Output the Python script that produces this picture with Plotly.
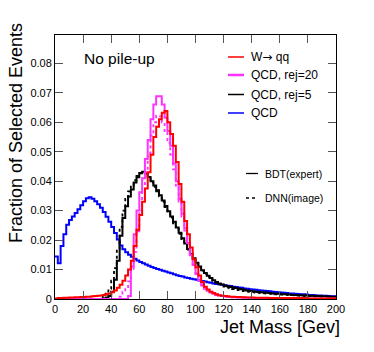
import plotly.graph_objects as go

# Bin edges: 2 GeV bins from 0 to 200
bin_width = 2
n_bins = 100
edges = [i * bin_width for i in range(n_bins + 1)]

x_ticks = [0, 20, 40, 60, 80, 100, 120, 140, 160, 180, 200]
y_ticks = [0, 0.01, 0.02, 0.03, 0.04, 0.05, 0.06, 0.07, 0.08]
y_tick_labels = ["0", "0.01", "0.02", "0.03", "0.04", "0.05", "0.06", "0.07", "0.08"]

# QCD (no cut) - blue
qcd_all = [
    0.0144, 0.0121, 0.0180, 0.0220, 0.0252, 0.0268, 0.0280, 0.0292, 0.0305, 0.0318,
    0.0332, 0.0342, 0.0345, 0.0340, 0.0332, 0.0322, 0.0310, 0.0295, 0.0279, 0.0262,
    0.0244, 0.0224, 0.0202, 0.0182, 0.0169, 0.0159, 0.0150, 0.0143, 0.0137, 0.0131,
    0.0126, 0.0121, 0.0117, 0.0113, 0.0109, 0.0105, 0.0102, 0.0099, 0.0096, 0.0093,
    0.0090, 0.0087, 0.0084, 0.0081, 0.0078, 0.0076, 0.0073, 0.0071, 0.0069, 0.0067,
    0.0065, 0.0063, 0.0061, 0.0059, 0.0057, 0.0055, 0.0053, 0.0051, 0.0050, 0.0048,
    0.0047, 0.0045, 0.0044, 0.0042, 0.0041, 0.0039, 0.0038, 0.0036, 0.0035, 0.0033,
    0.0032, 0.0031, 0.0030, 0.0029, 0.0028, 0.0027, 0.0026, 0.0025, 0.0024, 0.0023,
    0.0022, 0.0021, 0.0020, 0.0019, 0.0019, 0.0018, 0.0017, 0.0016, 0.0016, 0.0015,
    0.0014, 0.0014, 0.0013, 0.0012, 0.0012, 0.0011, 0.0011, 0.0010, 0.0009, 0.0009,
]

# QCD rej=5, BDT (black solid)
qcd_rej5_bdt = [0.0] * 17 + [
    0.0002, 0.0005, 0.0010,
    0.0025, 0.0065, 0.0130, 0.0215, 0.0275, 0.0315, 0.0348, 0.0372, 0.0395, 0.0413,
    0.0427, 0.0432, 0.0426, 0.0414, 0.0400, 0.0385, 0.0369, 0.0352, 0.0334, 0.0316,
    0.0298, 0.0280, 0.0262, 0.0243, 0.0225, 0.0206, 0.0188, 0.0170, 0.0153, 0.0138,
    0.0123, 0.0110, 0.0098, 0.0088, 0.0079, 0.0071, 0.0064, 0.0058, 0.0053, 0.0049,
    0.0046, 0.0043, 0.0041, 0.0039, 0.0037, 0.0035, 0.0033, 0.0031, 0.0029, 0.0027,
    0.0026, 0.0025, 0.0024, 0.0023, 0.0022, 0.0021, 0.0020, 0.0019, 0.0018, 0.0018,
    0.0017, 0.0016, 0.0016, 0.0015, 0.0014, 0.0014, 0.0013, 0.0013, 0.0012, 0.0012,
    0.0011, 0.0011, 0.0010, 0.0010, 0.0009, 0.0009, 0.0009, 0.0008, 0.0008, 0.0008,
]

# QCD rej=5, DNN (black dotted)
qcd_rej5_dnn = [0.0] * 16 + [
    0.0003, 0.0008, 0.0018, 0.0035,
    0.0062, 0.0105, 0.0170, 0.0245, 0.0300, 0.0340, 0.0365, 0.0385, 0.0403, 0.0418,
    0.0428, 0.0430, 0.0423, 0.0410, 0.0396, 0.0381, 0.0365, 0.0348, 0.0330, 0.0312,
    0.0294, 0.0276, 0.0257, 0.0239, 0.0221, 0.0203, 0.0185, 0.0168, 0.0152, 0.0136,
    0.0122, 0.0108, 0.0096, 0.0086, 0.0076, 0.0068, 0.0061, 0.0055, 0.0050, 0.0046,
    0.0042, 0.0039, 0.0036, 0.0034, 0.0032, 0.0030, 0.0028, 0.0027, 0.0025, 0.0024,
    0.0023, 0.0022, 0.0021, 0.0020, 0.0019, 0.0018, 0.0018, 0.0017, 0.0016, 0.0016,
    0.0015, 0.0015, 0.0014, 0.0013, 0.0013, 0.0012, 0.0012, 0.0011, 0.0011, 0.0010,
    0.0010, 0.0010, 0.0009, 0.0009, 0.0009, 0.0008, 0.0008, 0.0008, 0.0007, 0.0007,
]

# QCD rej=20, BDT (magenta solid)
qcd_rej20_bdt = [0.0] * 26 + [
    0.0010, 0.0110, 0.0220, 0.0300,
    0.0362, 0.0410, 0.0475, 0.0540, 0.0610, 0.0660, 0.0688, 0.0688, 0.0660, 0.0615,
    0.0570, 0.0520, 0.0460, 0.0400, 0.0340, 0.0290, 0.0240, 0.0190, 0.0150, 0.0115,
    0.0085, 0.0062, 0.0046, 0.0035, 0.0028, 0.0022, 0.0018, 0.0014, 0.0012, 0.0010,
    0.0009, 0.0008, 0.0007, 0.0006, 0.0006, 0.0005, 0.0005, 0.0004, 0.0004, 0.0004,
    0.0003, 0.0003, 0.0003, 0.0003, 0.0003, 0.0002, 0.0002, 0.0002, 0.0002, 0.0002,
    0.0002, 0.0002, 0.0002, 0.0002, 0.0002, 0.0002, 0.0002, 0.0002, 0.0002, 0.0002,
    0.0001, 0.0001, 0.0001, 0.0001, 0.0001, 0.0001, 0.0001, 0.0001, 0.0001, 0.0001,
]

# QCD rej=20, DNN (magenta dotted)
qcd_rej20_dnn = [0.0] * 23 + [
    0.0008, 0.0025, 0.0040, 0.0060, 0.0095, 0.0160, 0.0230,
    0.0300, 0.0370, 0.0430, 0.0495, 0.0555, 0.0600, 0.0622, 0.0620, 0.0600, 0.0570,
    0.0530, 0.0490, 0.0440, 0.0385, 0.0330, 0.0280, 0.0232, 0.0188, 0.0148, 0.0115,
    0.0088, 0.0066, 0.0050, 0.0039, 0.0031, 0.0025, 0.0020, 0.0016, 0.0013, 0.0011,
    0.0009, 0.0008, 0.0007, 0.0006, 0.0006, 0.0005, 0.0005, 0.0004, 0.0004, 0.0004,
    0.0003, 0.0003, 0.0003, 0.0003, 0.0003, 0.0002, 0.0002, 0.0002, 0.0002, 0.0002,
    0.0002, 0.0002, 0.0002, 0.0002, 0.0002, 0.0002, 0.0002, 0.0002, 0.0002, 0.0002,
    0.0001, 0.0001, 0.0001, 0.0001, 0.0001, 0.0001, 0.0001, 0.0001, 0.0001, 0.0001,
]

# W -> qq (red)
w_qq = [
    0.0002, 0.0003, 0.0003, 0.0004, 0.0004, 0.0005, 0.0005, 0.0006, 0.0006, 0.0007,
    0.0007, 0.0008, 0.0008, 0.0009, 0.0010, 0.0011, 0.0012, 0.0014, 0.0016, 0.0019,
    0.0023, 0.0029, 0.0038, 0.0048, 0.0062, 0.0080, 0.0100, 0.0130, 0.0180, 0.0235,
    0.0285, 0.0330, 0.0375, 0.0430, 0.0490, 0.0550, 0.0585, 0.0610, 0.0632, 0.0638,
    0.0600, 0.0560, 0.0520, 0.0465, 0.0390, 0.0330, 0.0265, 0.0220, 0.0175, 0.0135,
    0.0108, 0.0080, 0.0058, 0.0042, 0.0032, 0.0025, 0.0020, 0.0016, 0.0013, 0.0011,
    0.0010, 0.0009, 0.0008, 0.0008, 0.0007, 0.0007, 0.0006, 0.0006, 0.0005, 0.0005,
    0.0005, 0.0004, 0.0004, 0.0004, 0.0004, 0.0004, 0.0003, 0.0003, 0.0003, 0.0003,
    0.0003, 0.0003, 0.0003, 0.0003, 0.0003, 0.0003, 0.0003, 0.0003, 0.0003, 0.0003,
    0.0002, 0.0002, 0.0002, 0.0002, 0.0002, 0.0002, 0.0002, 0.0002, 0.0002, 0.0002,
]

legend_labels = ["W<span style=\"font-family:DejaVu Sans\">\u2192</span> qq",
                 "QCD, rej=20", "QCD, rej=5", "QCD"]
style_labels = ["BDT(expert)", "DNN(image)"]

RED = "#ff0000"
MAGENTA = "#ff33ff"
BLACK = "#000000"
BLUE = "#0000ff"
FONT = "Liberation Sans, Arial, Helvetica, sans-serif"


def step(values):
    return edges, list(values) + [values[-1]]


fig = go.Figure()

series = [
    (qcd_all, BLUE, 2, "solid"),
    (qcd_rej5_dnn, BLACK, 1.8, "dot"),
    (qcd_rej5_bdt, BLACK, 2, "solid"),
    (qcd_rej20_dnn, MAGENTA, 1.8, "dot"),
    (qcd_rej20_bdt, MAGENTA, 2, "solid"),
    (w_qq, RED, 2, "solid"),
]
for vals, color, width, dash in series:
    xs, ys = step(vals)
    fig.add_trace(go.Scatter(
        x=xs, y=ys, mode="lines", line=dict(color=color, width=width, dash=dash, shape="hv"),
        showlegend=False, hoverinfo="skip",
    ))

W, H = 374, 352
L, R, T, B = 55, 336, 35, 299


def px(x):
    # pixel -> paper (plot-area) fraction
    return (x - L) / (R - L)


def py(y):
    return (B - y) / (B - T)


shapes = []
annotations = []

# Main legend
leg_colors = [RED, MAGENTA, BLACK, BLUE]
leg_widths = [1.5, 2.5, 1.5, 1.5]
leg_y = [57, 75, 94.5, 113]
for lab, col, lw, yy in zip(legend_labels, leg_colors, leg_widths, leg_y):
    shapes.append(dict(type="line", xref="paper", yref="paper",
                       x0=px(228), x1=px(244), y0=py(yy), y1=py(yy),
                       line=dict(color=col, width=lw)))
    annotations.append(dict(x=px(249), y=py(yy), xref="paper", yref="paper",
                            text=lab, showarrow=False, xanchor="left", yanchor="middle",
                            font=dict(family=FONT, size=12, color="black")))

# Style legend
style_dash = ["solid", "dot"]
style_y = [173.5, 198]
for lab, dsh, yy in zip(style_labels, style_dash, style_y):
    shapes.append(dict(type="line", xref="paper", yref="paper",
                       x0=px(246), x1=px(258), y0=py(yy), y1=py(yy),
                       line=dict(color=BLACK, width=1.3, dash=dsh)))
    annotations.append(dict(x=px(262.5), y=py(yy), xref="paper", yref="paper",
                            text=lab, showarrow=False, xanchor="left", yanchor="middle",
                            font=dict(family=FONT, size=10.5, color="black")))

annotations.append(dict(x=px(82), y=py(58.5), xref="paper", yref="paper",
                        text="No pile-up", showarrow=False, xanchor="left", yanchor="middle",
                        font=dict(family=FONT, size=15.5, color="black")))

# Axis titles (ROOT-style, aligned to the axis end)
annotations.append(dict(x=px(342), y=py(327), xref="paper", yref="paper",
                        text="Jet Mass [Gev]", showarrow=False, xanchor="right", yanchor="middle",
                        font=dict(family=FONT, size=18, color="black")))
annotations.append(dict(x=px(15.5), y=py(133.5), xref="paper", yref="paper",
                        text="Fraction of Selected Events", showarrow=False, textangle=-90,
                        xanchor="center", yanchor="middle",
                        font=dict(family=FONT, size=18, color="black")))

ymax = (B - T) / ((B - 63.3) / 0.08)

fig.update_layout(
    width=W, height=H,
    margin=dict(l=L, r=W - R, t=T, b=H - B, pad=0),
    paper_bgcolor="white", plot_bgcolor="white",
    shapes=shapes, annotations=annotations,
    font=dict(family=FONT, size=11, color="black"),
    xaxis=dict(
        range=[0, 200], tickvals=x_ticks, ticks="inside", ticklen=8, tickwidth=1,
        tickcolor="#555555", showgrid=False, zeroline=False,
        showline=True, linecolor="black", linewidth=1, mirror="ticks",
        tickfont=dict(family=FONT, size=11, color="black"),
    ),
    yaxis=dict(
        range=[0, ymax], tickvals=y_ticks, ticktext=y_tick_labels, ticks="inside",
        ticklen=8, tickwidth=1, tickcolor="#555555", showgrid=False, zeroline=False,
        showline=True, linecolor="black", linewidth=1, mirror="ticks",
        tickfont=dict(family=FONT, size=11, color="black"),
    ),
    showlegend=False,
)

fig.write_html("out.html", config={"displayModeBar": False},
               post_script="document.body.style.margin='0';")
